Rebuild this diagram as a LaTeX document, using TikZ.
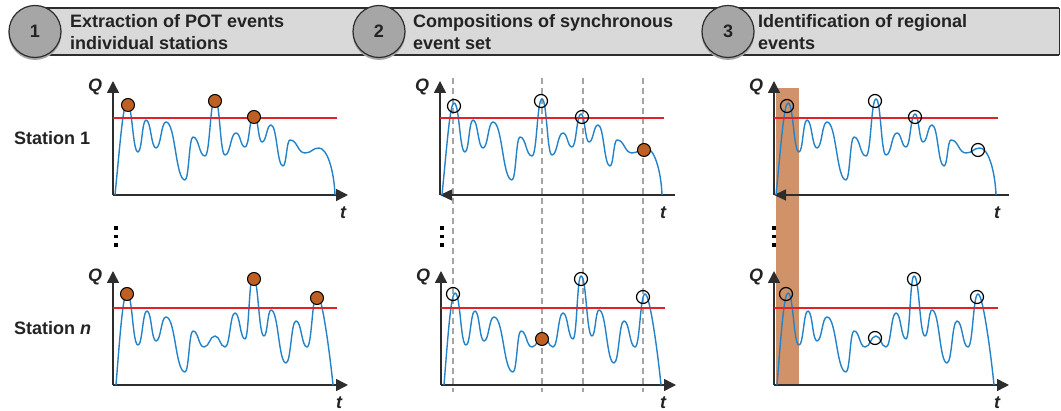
\documentclass[tikz,border=0pt]{standalone}
\usepackage{fontspec}
\setmainfont{Liberation Sans}
\usetikzlibrary{arrows.meta}
\definecolor{wblue}{RGB}{35,130,200}
\definecolor{thr}{RGB}{225,35,40}
\definecolor{evt}{RGB}{190,95,35}
\definecolor{bandc}{RGB}{208,146,104}
\definecolor{barfill}{RGB}{217,217,217}
\definecolor{circfill}{RGB}{166,166,166}
\definecolor{edgec}{RGB}{45,45,45}
\definecolor{dashc}{RGB}{165,165,165}
\definecolor{txt}{RGB}{35,35,35}
\tikzset{
  wave/.style={wblue, line width=1.4pt, line join=round},
  thresh/.style={thr, line width=1.3pt},
  axisline/.style={edgec, line width=1.5pt},
  tip/.style={-{Triangle[length=12pt,width=12pt]}},
  backtip/.style={{Triangle[length=12pt,width=11pt]}-},
  evtdot/.style={circle, draw=black, line width=1pt, fill=evt, minimum size=13pt, inner sep=0pt},
  evtring/.style={circle, draw=black, line width=1.2pt, minimum size=13pt, inner sep=0pt},
  axlbl/.style={inner sep=0pt, text=txt, font=\fontsize{18}{18}\selectfont\bfseries\itshape},
  htext/.style={inner sep=0pt, anchor=base west, text=txt, font=\fontsize{18}{22}\selectfont\bfseries},
  numcirc/.style={circle, draw=edgec, line width=1.2pt, fill=circfill, minimum size=52pt, inner sep=0pt, text=txt, font=\fontsize{18}{18}\selectfont\bfseries},
  dashline/.style={dashc, line width=1.4pt, dash pattern=on 6pt off 4pt},
  vdot/.style={fill=black, inner sep=0pt, minimum size=3.6pt, rectangle},
}
\newcommand\curveA{%
  \draw[wave] (2,0) .. controls (7,50) and (10,92) .. (14,92)
  \foreach \x/\y [remember=\x as \px (initially 14), remember=\y as \py (initially 92)] in
   {25/43,33/75,43/47,53/73,72/15,80/58,92/39,102/96,112/40,123/62,132/48,141/81,149/53,158/70,170/29,177/55,192/42,206/47}
   { .. controls ({(\px+\x)/2},\py) and ({(\px+\x)/2},\y) .. (\x,\y) }
  .. controls (214,47) and (221,25) .. (222,0);}
\newcommand\curveB{%
  \draw[wave] (3,0) .. controls (7,50) and (10,92) .. (14,92)
  \foreach \x/\y [remember=\x as \px (initially 14), remember=\y as \py (initially 92)] in
   {25/40,34/74,43/44,53/68,72/13,80/54,91/38,102/49,112/38,122/72,132/46,140/109,151/49,158/75,173/22,183/64,194/38,204/91}
   { .. controls ({(\px+\x)/2},\py) and ({(\px+\x)/2},\y) .. (\x,\y) }
  .. controls (209,91) and (217,30) .. (220,0);}
% axes: #1 prefix, #2 = 1 for right arrow, 0 for back arrow at origin
\newcommand\axesRight[2]{%
  \coordinate (#1o) at (0,0);
  \coordinate (#1y) at (0,114);
  \coordinate (#1x) at (235,0);
  \draw[axisline,tip] (#1o) -- (#1y);
  \draw[axisline,tip] (#1o) -- (#1x);
  \node[axlbl] (#1Q) at (-18,108) {Q};
  \node[axlbl] (#1t) at (#2,-18) {t};
  \coordinate (#1a) at (0,77);
  \coordinate (#1b) at (224,77);
}
\newcommand\axesBack[2]{%
  \coordinate (#1o) at (0,0);
  \coordinate (#1y) at (0,114);
  \coordinate (#1x) at (235,0);
  \draw[axisline,tip] (#1o) -- (#1y);
  \draw[axisline,backtip] (#1o) -- (#1x);
  \node[axlbl] (#1Q) at (-18,108) {Q};
  \node[axlbl] (#1t) at (#2,-18) {t};
  \coordinate (#1a) at (0,77);
  \coordinate (#1b) at (224,77);
}
\begin{document}
\begin{tikzpicture}[x=1pt,y=1pt]
\useasboundingbox (0,0) rectangle (1061,411);
% ---------- header ----------
\fill[barfill] (30,356) rectangle (1059,403);
\draw[edgec, line width=1.8pt] (30,403) -- (1059,403);
\draw[edgec, line width=1.8pt] (30,356) -- (1059,356);
\draw[edgec, line width=0.8pt] (1059,356) -- (1059,403);
\fill[black!35] (35,377.5) circle (26.5pt);
\fill[black!35] (379,377.5) circle (26.5pt);
\fill[black!35] (728,377.5) circle (26.5pt);
\node[numcirc] (c1) at (35,379.5) {1};
\node[numcirc] (c2) at (379,379.5) {2};
\node[numcirc] (c3) at (728,379.5) {3};
\node[htext] (h1a) at (70,383) {Extraction of POT events};
\node[htext] (h1b) at (70,361) {individual stations};
\node[htext] (h2a) at (413,383) {Compositions of synchronous};
\node[htext] (h2b) at (413,361) {event set};
\node[htext] (h3a) at (758,383) {Identification of regional};
\node[htext] (h3b) at (758,361) {events};
% ---------- station labels ----------
\node[htext] (s1) at (14,266) {Station 1};
\node[htext] (sn) at (14,76) {Station \textit{n}};
% ---------- background band and dashed lines ----------
\fill[bandc] (776,323) rectangle (799,25);
\foreach \xx [count=\k] in {453,542,583,643} {
  \coordinate (dt\k) at (\xx,333);
  \coordinate (db\k) at (\xx,19);
  \draw[dashline] (dt\k) -- (db\k);
}
% ---------- vertical dots ----------
\foreach \xx/\nm in {116/p,442/q,774/r} {
  \node[vdot] (\nm1) at (\xx,183) {};
  \node[vdot] (\nm2) at (\xx,174.5) {};
  \node[vdot] (\nm3) at (\xx,166) {};
}
% ---------- panel 1 top ----------
\begin{scope}[shift={(113,216)}]
  \axesRight{Pa}{230}
  \curveA
  \draw[thresh] (Paa) -- (Pab);
  \node[evtdot] (Pae1) at (15,90) {};
  \node[evtdot] (Pae2) at (102,94) {};
  \node[evtdot] (Pae3) at (141,78) {};
\end{scope}
% ---------- panel 1 bottom ----------
\begin{scope}[shift={(113,26)}]
  \axesRight{Pb}{226}
  \curveB
  \draw[thresh] (Pba) -- (Pbb);
  \node[evtdot] (Pbe1) at (14,91) {};
  \node[evtdot] (Pbe2) at (141,106) {};
  \node[evtdot] (Pbe3) at (204,87) {};
\end{scope}
% ---------- panel 2 top ----------
\begin{scope}[shift={(440,216)}]
  \axesBack{Qa}{223}
  \curveA
  \draw[thresh] (Qaa) -- (Qab);
  \node[evtring] (Qar1) at (14,89) {};
  \node[evtring] (Qar2) at (101,94) {};
  \node[evtring] (Qar3) at (142,78) {};
  \node[evtdot] (Qae1) at (204,45) {};
\end{scope}
% ---------- panel 2 bottom ----------
\begin{scope}[shift={(441,26)}]
  \axesRight{Qb}{222}
  \curveB
  \draw[thresh] (Qba) -- (Qbb);
  \node[evtring] (Qbr1) at (12,91) {};
  \node[evtring] (Qbr2) at (140,106) {};
  \node[evtring] (Qbr3) at (202,88) {};
  \node[evtdot] (Qbe1) at (101,46) {};
\end{scope}
% ---------- panel 3 top ----------
\begin{scope}[shift={(774,216)}]
  \axesBack{Ra}{223}
  \curveA
  \draw[thresh] (Raa) -- (Rab);
  \node[evtring] (Rar1) at (13,89) {};
  \node[evtring] (Rar2) at (101,94) {};
  \node[evtring] (Rar3) at (141,78) {};
  \node[evtring] (Rar4) at (204,45) {};
\end{scope}
% ---------- panel 3 bottom ----------
\begin{scope}[shift={(774,26)}]
  \axesRight{Rb}{223}
  \curveB
  \draw[thresh] (Rba) -- (Rbb);
  \node[evtring] (Rbr1) at (12,91) {};
  \node[evtring] (Rbr2) at (101,47) {};
  \node[evtring] (Rbr3) at (140,106) {};
  \node[evtring] (Rbr4) at (203,88) {};
\end{scope}
\end{tikzpicture}
\end{document}
